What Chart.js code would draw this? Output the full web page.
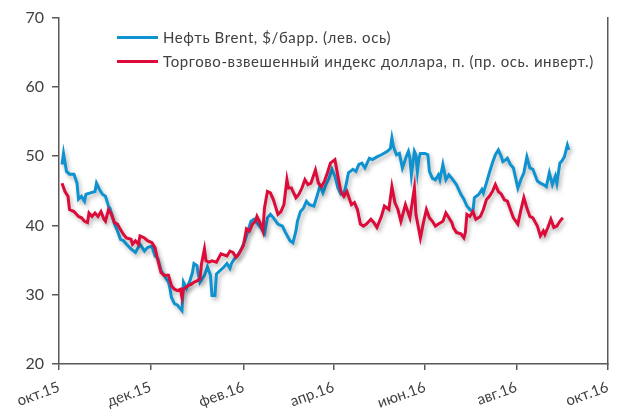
<!DOCTYPE html>
<html><head><meta charset="utf-8">
<script src="https://cdn.jsdelivr.net/npm/chart.js@4.4.1/dist/chart.umd.min.js"></script>
<style>
html,body{margin:0;padding:0;background:#fff;}
#wrap{position:relative;width:622px;height:412px;}
canvas{display:block;}
.leg{position:absolute;left:117px;font:15px Lato, sans-serif;letter-spacing:0.6px;color:#404040;white-space:nowrap;display:flex;align-items:center;height:20px;}
.leg span.sw{display:inline-block;width:41px;height:3px;margin-right:5px;}
</style></head><body>
<div id="wrap"><canvas id="c" width="622" height="412"></canvas>
<div class="leg" style="top:27px"><span class="sw" style="background:#0E93D0"></span>Нефть Brent, $/барр. (лев. ось)</div>
<div class="leg" style="top:51px"><span class="sw" style="background:#DC0B39"></span>Торгово-взвешенный индекс доллара, п. (пр. ось. инверт.)</div>
</div>
<script>
// x values: days since 1 Oct 2015
const tickDays = [0, 61, 123, 183, 244, 305, 366];
const tickLabels = ['окт.15', 'дек.15', 'фев.16', 'апр.16', 'июн.16', 'авг.16', 'окт.16'];

const brentDays = [2,3,5,7,10,12,13,15,17,18,21,24,25,27,29,31,33,34,37,39,41,43,45,48,51,54,57,59,62,64,66,68,70,73,74,75,77,79,80,82,83,85,87,89,90,92,93,94,97,99,101,102,104,105,110,112,114,115,117,119,122,124,126,128,130,132,135,137,139,141,143,146,149,151,154,156,158,159,161,163,165,167,170,172,174,176,178,180,182,184,186,188,190,191,193,196,198,200,202,204,207,209,212,215,219,221,222,223,225,227,229,232,233,234,235,237,238,239,240,241,244,246,247,249,251,253,254,256,258,260,262,265,268,270,272,274,276,277,280,282,283,285,287,289,291,293,295,296,298,299,301,303,306,308,310,312,314,316,319,321,323,325,327,329,331,332,334,335,337,339,340];
const brentValues = [48.8,50.4,47.8,47.4,47.4,46.1,43.8,44.2,43.5,44.5,44.7,44.9,46.1,45.2,44.5,44.2,42.8,42.5,40.2,39.2,38.0,37.8,37.3,36.6,36.1,37.3,36.3,36.8,37.0,35.6,35.2,33.5,32.8,31.8,30.9,29.6,28.7,28.5,28.2,27.7,31.8,30.9,31.8,33.2,34.5,34.2,32.8,31.8,32.8,34.0,32.8,29.9,29.9,33.0,34.0,34.5,33.8,34.5,35.2,35.6,36.8,37.8,39.2,40.6,40.9,40.4,39.5,38.8,41.1,41.6,41.1,40.2,39.9,39.0,37.8,37.5,39.2,40.6,42.0,42.5,43.5,43.0,42.8,44.2,45.7,44.7,45.9,46.8,48.1,47.1,45.4,44.5,44.7,45.4,47.6,48.1,47.8,48.8,49.0,48.3,49.7,49.5,49.9,50.2,50.7,51.1,52.6,51.4,50.2,50.4,48.3,50.2,50.7,49.7,47.3,50.7,50.2,47.8,49.7,50.4,50.4,50.2,47.8,46.8,46.6,47.3,46.6,48.8,46.6,47.3,46.8,45.9,44.5,43.8,42.8,42.3,42.0,44.0,44.5,45.2,44.7,46.1,47.6,49.0,50.2,50.9,49.9,49.2,49.5,49.7,48.8,48.3,45.4,46.6,47.6,49.9,48.3,48.1,46.4,46.1,45.9,45.6,47.6,45.9,47.1,46.1,49.0,49.2,49.9,51.6,50.9];

// dollar index, plotted on the inverted right axis (shown here in left-axis units)
const dollarDays = [2,4,6,7,10,13,15,17,19,20,22,24,26,28,30,31,33,35,37,39,41,43,45,48,49,51,53,54,57,59,62,64,66,68,70,73,75,77,79,81,82,83,86,88,90,92,94,95,97,98,100,102,105,108,112,114,116,118,120,123,125,127,129,131,132,134,136,137,139,141,143,146,148,150,152,153,155,156,158,160,162,164,166,168,171,173,175,177,179,181,184,186,188,190,192,195,197,199,201,203,205,208,210,212,215,217,220,222,224,226,228,231,234,237,238,241,243,245,247,249,251,253,256,258,260,262,263,265,268,270,271,272,274,276,278,281,283,285,287,289,291,293,295,297,299,301,303,306,308,310,312,314,316,319,321,323,324,326,328,330,332,334,336];
const dollarValues = [46.1,44.9,44.2,42.3,42.0,41.3,41.1,40.6,40.4,41.8,41.3,41.8,41.3,42.0,40.9,40.6,42.3,41.6,40.4,40.2,39.4,38.7,38.2,38.0,37.3,37.8,37.3,38.5,38.2,37.8,37.5,36.8,34.9,33.2,32.8,32.8,31.3,30.8,30.6,30.8,29.6,30.8,31.3,31.5,31.8,32.0,32.3,34.4,36.6,34.9,34.7,34.9,34.7,35.9,35.6,36.3,36.1,35.4,35.9,37.1,39.5,39.2,40.2,40.6,41.3,40.4,39.2,42.5,44.9,44.7,43.7,41.6,42.0,43.0,46.6,45.4,45.4,44.9,44.0,44.5,45.4,46.6,45.9,46.1,48.0,46.1,45.6,46.4,47.6,49.0,49.5,47.1,44.9,44.2,44.9,43.0,43.3,42.3,40.2,39.9,40.2,40.9,40.4,39.7,41.3,42.8,42.3,45.6,43.3,42.3,40.6,43.0,41.1,45.4,41.6,38.2,40.4,42.3,41.1,40.6,39.9,40.2,40.6,41.8,41.1,40.4,39.7,39.0,38.8,38.2,39.0,41.6,41.3,42.0,40.9,41.3,42.3,43.7,44.2,44.9,45.9,44.9,44.5,43.7,43.5,42.3,41.1,40.2,42.2,44.0,42.5,41.3,41.1,39.9,38.5,39.2,38.7,39.7,40.9,39.7,39.9,40.6,41.1];

const yMin = 20, yMax = 70, yStep = 10;

const toPts = (xs, ys) => xs.map((x, i) => ({x: x, y: ys[i]}));

const shadowPlugin = {
  id: 'lineShadow',
  beforeDatasetsDraw(chart) {
    const ctx = chart.ctx;
    ctx.save();
    ctx.shadowColor = 'rgba(0,0,0,0.28)';
    ctx.shadowBlur = 4;
    ctx.shadowOffsetX = 2;
    ctx.shadowOffsetY = 3;
  },
  afterDatasetsDraw(chart) {
    chart.ctx.restore();
  }
};

const axisColor = '#595959';
const textColor = '#404040';

new Chart(document.getElementById('c'), {
  type: 'line',
  data: {
    datasets: [
      {
        label: 'Нефть Brent, $/барр. (лев. ось)',
        data: toPts(brentDays, brentValues),
        borderColor: '#0E93D0',
        borderWidth: 3,
        pointRadius: 0,
        tension: 0,
        order: 2,
        yAxisID: 'y'
      },
      {
        label: 'Торгово-взвешенный индекс доллара, п. (пр. ось. инверт.)',
        data: toPts(dollarDays, dollarValues),
        borderColor: '#DC0B39',
        borderWidth: 3,
        pointRadius: 0,
        tension: 0,
        order: 1,
        yAxisID: 'y'
      }
    ]
  },
  options: {
    responsive: false,
    animation: false,
    devicePixelRatio: 1,
    layout: { padding: { top: 15, left: 0, right: 0, bottom: 0 } },
    plugins: { legend: { display: false }, tooltip: { enabled: false } },
    scales: {
      x: {
        type: 'linear',
        min: tickDays[0],
        max: tickDays[tickDays.length - 1],
        afterBuildTicks: (s) => { s.ticks = tickDays.map(v => ({ value: v })); },
        afterFit: (s) => { s.height = 48; },
        ticks: {
          autoSkip: false,
          minRotation: 20,
          maxRotation: 20,
          padding: 8,
          color: textColor,
          font: { family: 'Lato', size: 15 },
          callback: (v) => { const i = tickDays.indexOf(v); return i >= 0 ? tickLabels[i] : ''; }
        },
        grid: { drawOnChartArea: false, drawTicks: true, tickLength: 6, color: axisColor, lineWidth: 1.5 },
        border: { display: true, color: axisColor, width: 1.5 }
      },
      y: {
        position: 'left',
        min: yMin,
        max: yMax,
        afterFit: (s) => { s.width = 59; },
        ticks: {
          stepSize: yStep,
          padding: 8,
          color: textColor,
          font: { family: 'Lato', size: 16 }
        },
        grid: { drawOnChartArea: false, drawTicks: true, tickLength: 7, color: axisColor, lineWidth: 1.5 },
        border: { display: true, color: axisColor, width: 1.5 }
      },
      y2: {
        position: 'right',
        reverse: true,
        min: yMin,
        max: yMax,
        afterFit: (s) => { s.width = 3; },
        ticks: { display: false },
        grid: { drawOnChartArea: false, drawTicks: false },
        border: { display: true, color: axisColor, width: 1.5 }
      }
    }
  },
  plugins: [shadowPlugin]
});
</script>
</body></html>
